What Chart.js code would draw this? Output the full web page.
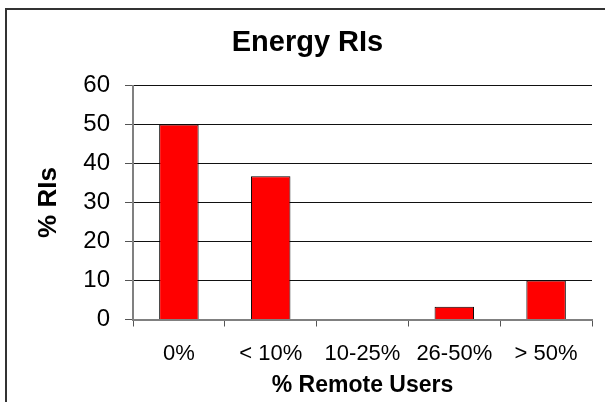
<!DOCTYPE html>
<html>
<head>
<meta charset="utf-8">
<script src="https://cdn.jsdelivr.net/npm/chart.js@4/dist/chart.umd.min.js"></script>
<style>
  html, body { margin: 0; padding: 0; background: #fff; overflow: hidden; }
  .wrap { position: relative; width: 605px; height: 402px; }
  .frame { position: absolute; left: 5px; top: 8px; width: 700px; height: 500px; border: 2px solid #333; box-sizing: border-box; }
  canvas { position: absolute; left: 0; top: 0; }
</style>
</head>
<body>
<div class="wrap">
  <div class="frame"></div>
  <canvas id="chart" width="605" height="402"></canvas>
</div>
<script>
const categories = ['0%', '< 10%', '10-25%', '26-50%', '> 50%'];
const pctRIs     = [50, 36.7, 0, 3.3, 10];
const yTicks     = [0, 10, 20, 30, 40, 50, 60];

const FONT = "'Liberation Sans', Arial, sans-serif";

new Chart(document.getElementById('chart'), {
  type: 'bar',
  data: {
    labels: categories,
    datasets: [{
      data: pctRIs,
      backgroundColor: '#ff0000',
      borderColor: '#000',
      borderWidth: 1,
      categoryPercentage: 1,
      barPercentage: 0.43
    }]
  },
  options: {
    responsive: false,
    animation: false,
    layout: { padding: { left: 23, right: 13, top: 0, bottom: 0 } },
    plugins: {
      legend: { display: false },
      tooltip: { enabled: false },
      title: {
        display: true,
        text: 'Energy RIs',
        color: '#000',
        font: { family: FONT, size: 29, weight: 'bold' },
        padding: { top: 26, bottom: 24.7 }
      }
    },
    scales: {
      x: {
        afterFit: s => { s.height = 82.5; },
        grid: { drawOnChartArea: false, drawTicks: true, tickLength: 7, color: '#555', offset: true },
        border: { color: '#808080', width: 2 },
        ticks: { color: '#000', padding: 14, maxRotation: 0, font: { family: FONT, size: 22 } },
        title: {
          display: true,
          text: '% Remote Users',
          color: '#000',
          font: { family: FONT, size: 23, weight: 'bold' },
          padding: { top: 0, bottom: 3 }
        }
      },
      y: {
        min: yTicks[0],
        max: yTicks[yTicks.length - 1],
        afterFit: s => { s.width = 110; },
        afterBuildTicks: s => { s.ticks = yTicks.map(v => ({ value: v })); },
        grid: {
          color: c => (c.tick && c.tick.value === 0 ? '#808080' : '#111'),
          tickColor: '#555',
          lineWidth: 1,
          tickLength: 8
        },
        border: { color: '#808080', width: 2 },
        ticks: { color: '#000', padding: 15, font: { family: FONT, size: 24 } },
        title: {
          display: true,
          text: '% RIs',
          color: '#000',
          font: { family: FONT, size: 26, weight: 'bold' },
          padding: { top: 10, bottom: 0 }
        }
      }
    }
  }
});
</script>
</body>
</html>
